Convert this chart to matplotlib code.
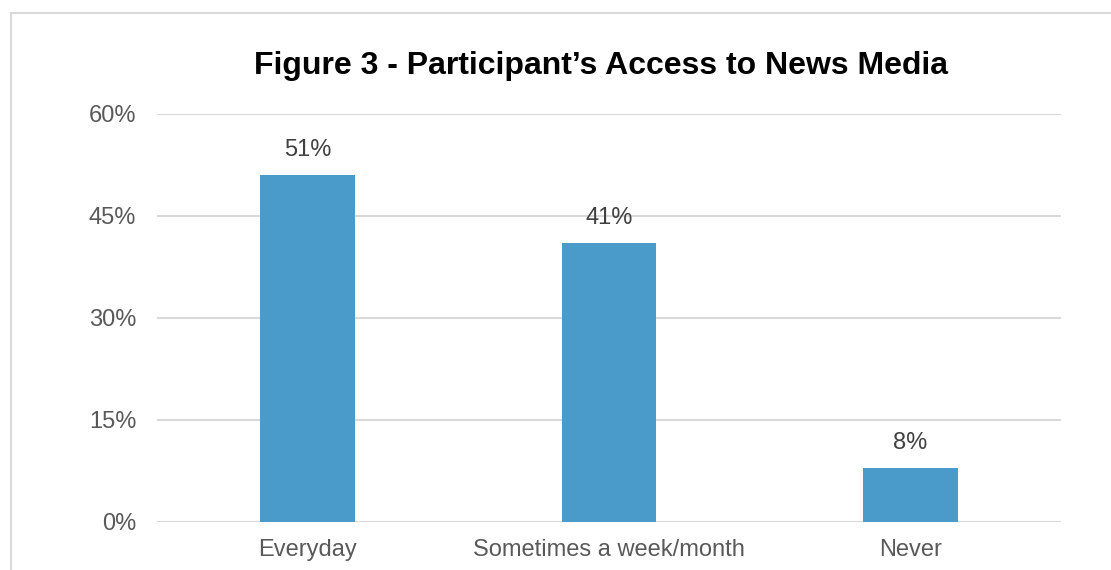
import matplotlib.pyplot as plt
from matplotlib.patches import Rectangle
from matplotlib.ticker import FuncFormatter

# data
categories = ['Everyday', 'Sometimes a week/month', 'Never']
shares = [51, 41, 8]
yticks = [0, 15, 30, 45, 60]

plt.rcParams['font.family'] = ['Liberation Sans', 'DejaVu Sans']

W, H = 1111, 570
fig = plt.figure(figsize=(W / 100, H / 100), dpi=100)
fig.patch.set_facecolor('white')

# outer chart frame (cut off at right and bottom in the reference)
fig.patches.append(Rectangle((11 / W, -0.05), 1.2, 1 - 13 / H + 0.05,
                             transform=fig.transFigure, fill=False,
                             edgecolor='#D9D9D9', linewidth=1.5))

ax = fig.add_axes([157 / W, 1 - 522 / H, (1061 - 157) / W, (522 - 114) / H])
x = list(range(len(categories)))
bars = ax.bar(x, shares, width=0.315, color='#4A9BCA', zorder=3)

ax.set_xlim(-0.5, 2.5)
ax.set_ylim(0, 60)
ax.set_yticks(yticks)
ax.yaxis.set_major_formatter(FuncFormatter(lambda v, p: f'{v:.0f}%'))
ax.set_xticks(x)
ax.set_xticklabels(categories)
ax.grid(axis='y', color='#D9D9D9', linewidth=1.5, zorder=0)
for s in ax.spines.values():
    s.set_visible(False)
ax.tick_params(axis='y', length=0, pad=15, labelsize=17, labelcolor='#595959')
ax.tick_params(axis='x', length=0, pad=12, labelsize=17, labelcolor='#595959')

for b, v in zip(bars, shares):
    ax.annotate(f'{v}%', (b.get_x() + b.get_width() / 2, v),
                xytext=(0, 10), textcoords='offset points',
                ha='center', va='bottom', fontsize=17, color='#404040')

fig.text(601 / W, 1 - 74 / H, "Figure 3 - Participant\u2019s Access to News Media",
         fontsize=23, fontweight='bold', color='black',
         ha='center', va='baseline')

fig.savefig('out.png', dpi=100)
